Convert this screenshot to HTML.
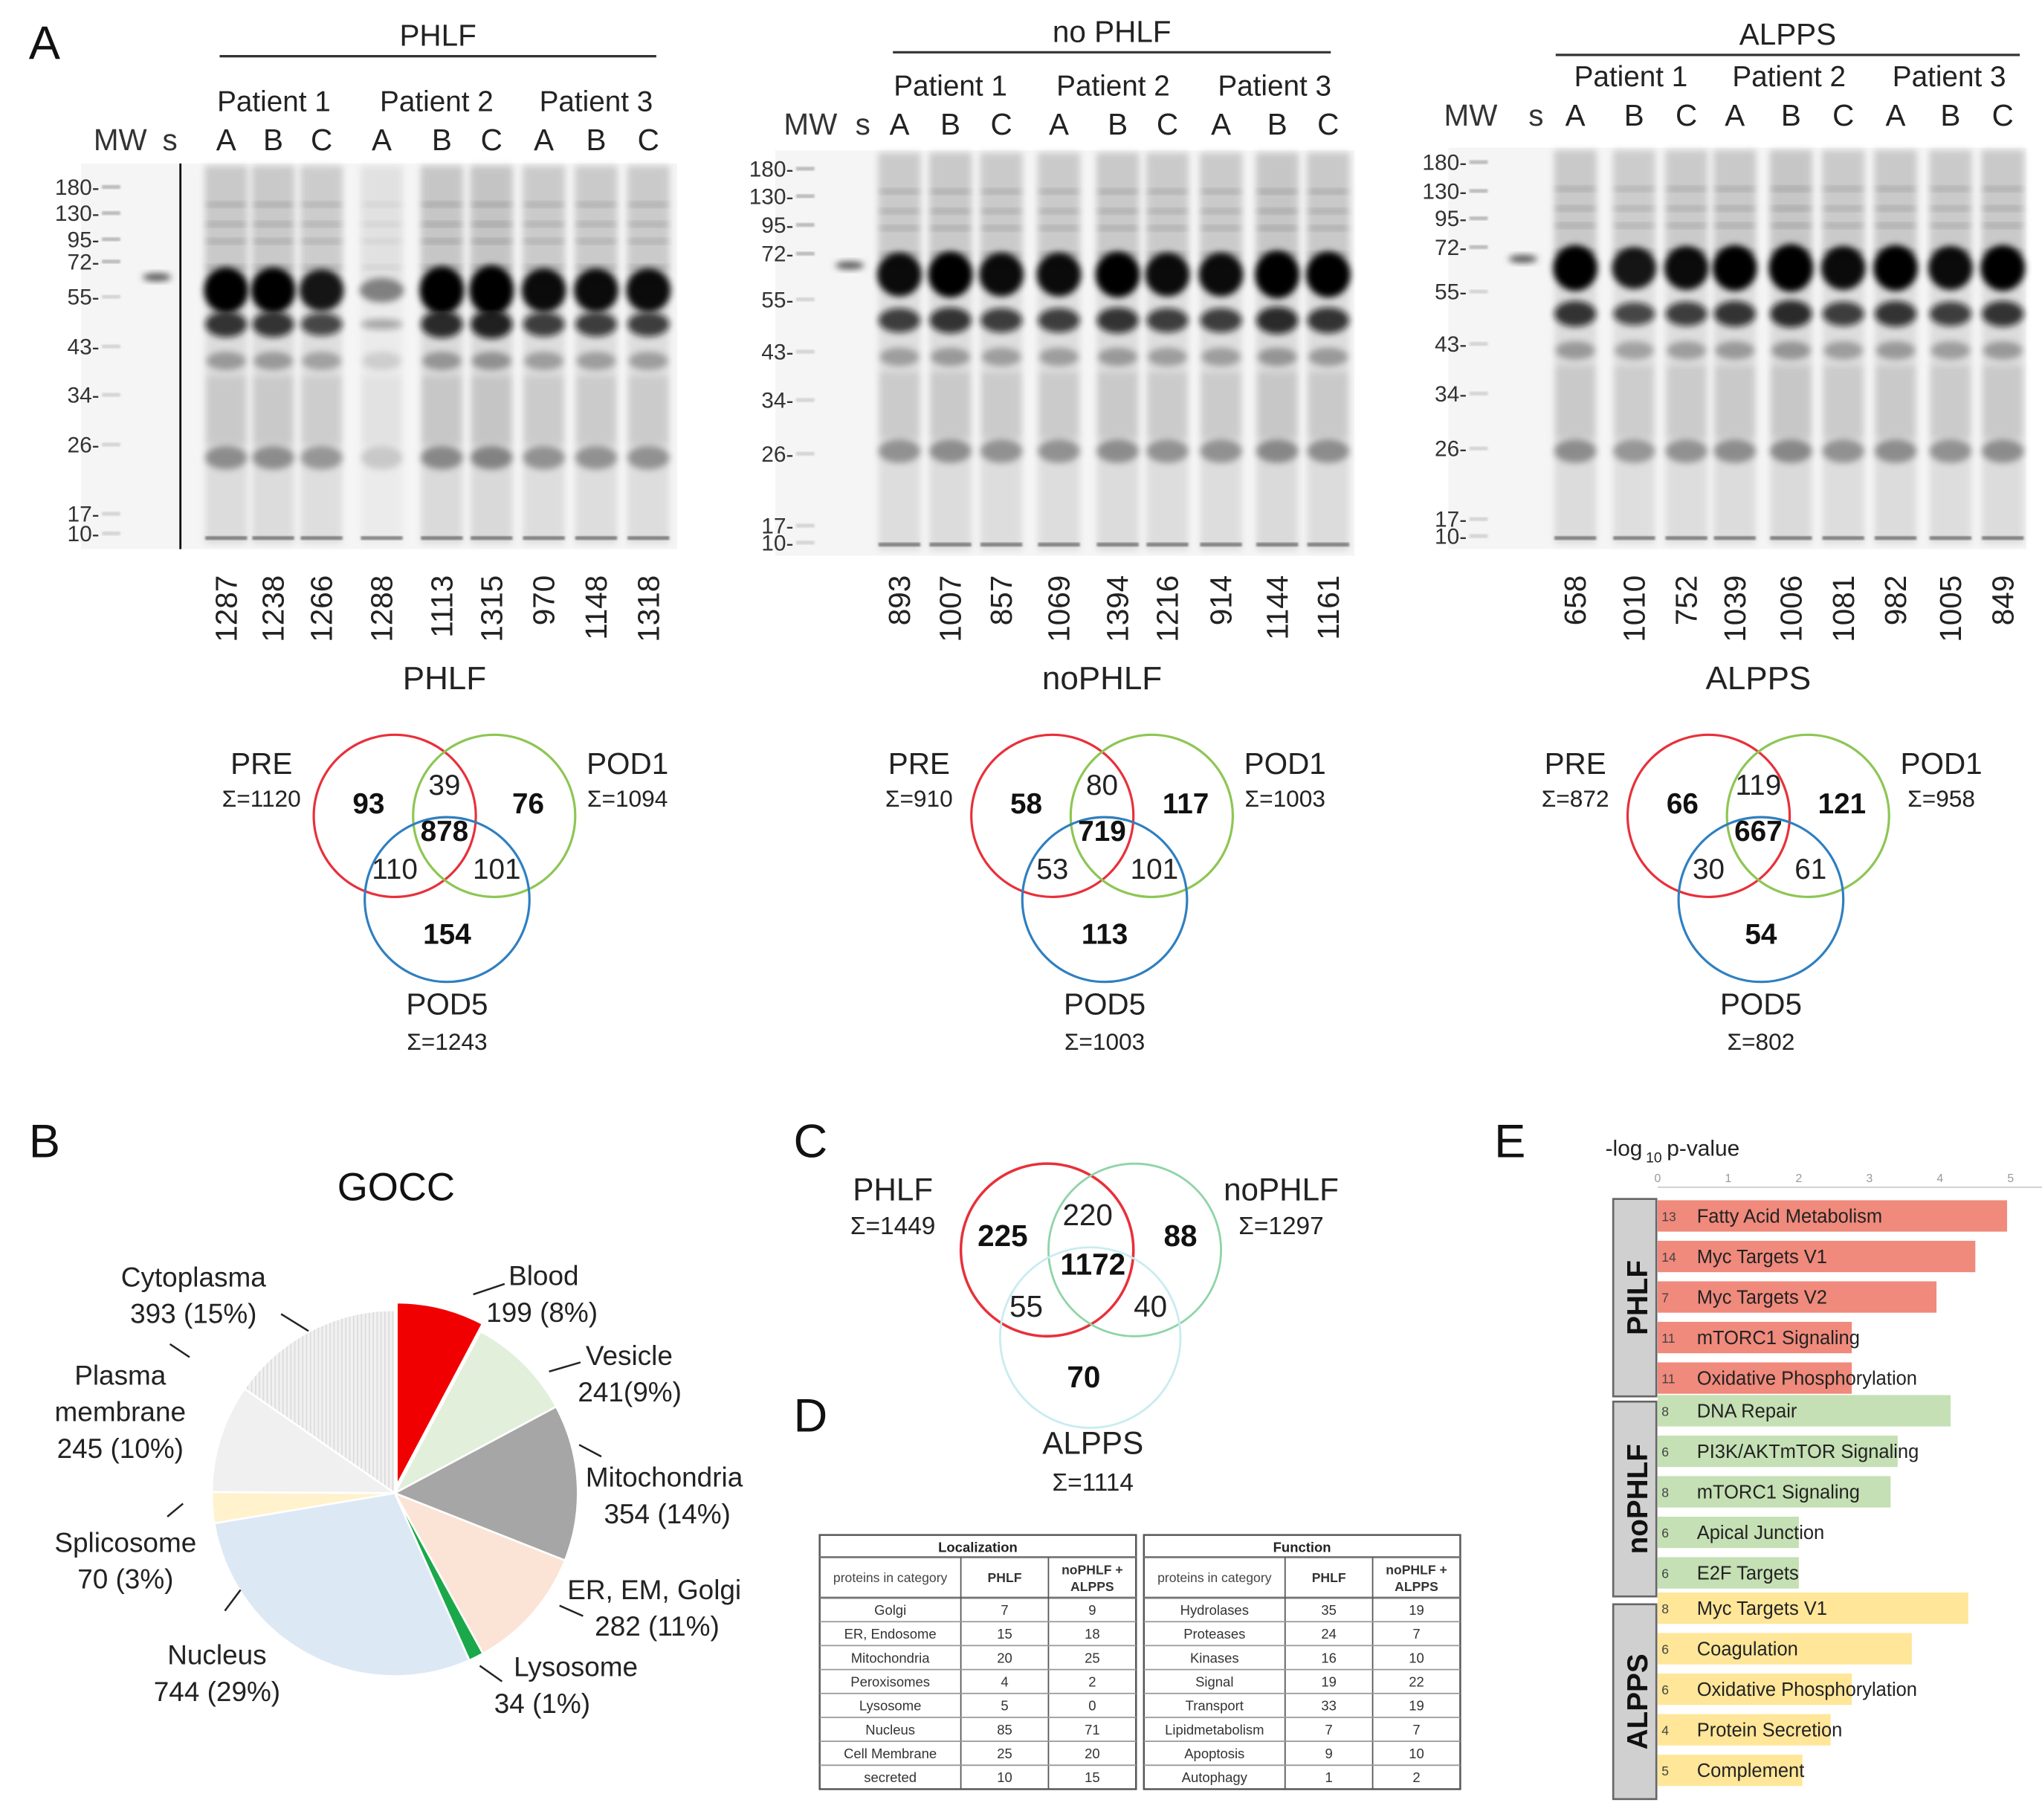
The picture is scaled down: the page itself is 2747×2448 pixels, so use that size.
<!DOCTYPE html>
<html><head><meta charset="utf-8"><style>
html,body{margin:0;padding:0;background:#fff;}
svg{display:block;font-family:"Liberation Sans",Arial,sans-serif;}
</style></head><body>
<svg id="fig" width="2747" height="2448" viewBox="0 0 1562 1392" preserveAspectRatio="none" xmlns="http://www.w3.org/2000/svg">
<defs>
<filter id="blur2" x="-50%" y="-50%" width="200%" height="200%"><feGaussianBlur stdDeviation="2.6"/></filter>
<filter id="blur5" x="-50%" y="-50%" width="200%" height="200%"><feGaussianBlur stdDeviation="5"/></filter>
<filter id="blurs" x="-10%" y="-10%" width="120%" height="120%"><feGaussianBlur stdDeviation="0.7"/></filter>
<pattern id="vstripe" width="3" height="10" patternUnits="userSpaceOnUse"><rect width="3" height="10" fill="#f1f1f1"/><rect width="1" height="10" fill="#dcdcdc"/></pattern>
</defs>
<g id="root"></g>
</svg>
<script>
// ---------- DATA ----------
const gelTitles = ["PHLF","no PHLF","ALPPS"];
const gelNumbers1 = ["1287","1238","1266","1288","1113","1315","970","1148","1318"];
const gelNumbers2 = ["893","1007","857","1069","1394","1216","914","1144","1161"];
const gelNumbers3 = ["658","1010","752","1039","1006","1081","982","1005","849"];
const gelIntensity1 = [0.9,0.9,0.8,0.35,0.95,1.0,0.85,0.85,0.85];
const gelIntensity2 = [0.85,0.9,0.85,0.85,0.9,0.85,0.85,0.95,0.9];
const gelIntensity3 = [0.9,0.8,0.85,0.9,0.95,0.85,0.9,0.85,0.9];
const mwLabels = ["180","130","95","72","55","43","34","26","17","10"];

const vennNames = ["PHLF","noPHLF","ALPPS"];
const vennPre = [1120,910,872];
const vennPod1 = [1094,1003,958];
const vennPod5 = [1243,1003,802];
const vennOnlyPre = [93,58,66];
const vennOnlyPod1 = [76,117,121];
const vennOnlyPod5 = [154,113,54];
const vennPrePod1 = [39,80,119];
const vennPrePod5 = [110,53,30];
const vennPod1Pod5 = [101,101,61];
const vennAll = [878,719,667];

const pieLabels = ["Blood","Vesicle","Mitochondria","ER, EM, Golgi","Lysosome","Nucleus","Splicosome","Plasma membrane","Cytoplasma"];
const pieValues = [199,241,354,282,34,744,70,245,393];
const piePercents = ["8%","9%","14%","11%","1%","29%","3%","10%","15%"];

const cNames = ["PHLF","noPHLF","ALPPS"];
const cTotals = [1449,1297,1114];
const cRegions = [225,88,70,220,55,40,1172];

const locCats = ["Golgi","ER, Endosome","Mitochondria","Peroxisomes","Lysosome","Nucleus","Cell Membrane","secreted"];
const locPhlf = [7,15,20,4,5,85,25,10];
const locOther = [9,18,25,2,0,71,20,15];
const funCats = ["Hydrolases","Proteases","Kinases","Signal","Transport","Lipidmetabolism","Apoptosis","Autophagy"];
const funPhlf = [35,24,16,19,33,7,9,1];
const funOther = [19,7,10,22,19,7,10,2];

const eTerms = ["Fatty Acid Metabolism","Myc Targets V1","Myc Targets V2","mTORC1 Signaling","Oxidative Phosphorylation","DNA Repair","PI3K/AKTmTOR Signaling","mTORC1 Signaling","Apical Junction","E2F Targets","Myc Targets V1","Coagulation","Oxidative Phosphorylation","Protein Secretion","Complement"];
const eValues = [4.95,4.5,3.95,2.75,2.75,4.15,3.4,3.3,2.0,2.0,4.4,3.6,2.75,2.45,2.05];
const eCounts = [13,14,7,11,11,8,6,8,6,6,8,6,6,4,5];
const eGroups = ["PHLF","PHLF","PHLF","PHLF","PHLF","noPHLF","noPHLF","noPHLF","noPHLF","noPHLF","ALPPS","ALPPS","ALPPS","ALPPS","ALPPS"];
const eTicks = [0,1,2,3,4,5];

// ---------- helpers ----------
const NS="http://www.w3.org/2000/svg";
const root=document.getElementById('root');
function mk(tag,attrs,parent){const e=document.createElementNS(NS,tag);for(const k in attrs)e.setAttribute(k,attrs[k]);(parent||root).appendChild(e);return e;}
function txt(x,y,s,size,opts,parent){opts=opts||{};const e=mk('text',{x:x,y:y,'font-size':size,'text-anchor':opts.anchor||'middle',fill:opts.fill||'#222','font-weight':opts.bold?'bold':'normal'},parent);if(opts.rot)e.setAttribute('transform','rotate('+opts.rot+' '+x+' '+y+')');e.textContent=s;return e;}

// Panel letters
[["A",22,45],["B",22,885],["C",607,885],["D",607,1095],["E",1143,885]].forEach(p=>{
 const t=txt(p[1],p[2],p[0],36,{anchor:'start',fill:'#111'});
 
 
});

// ---------- GELS ----------
const gels=[
 {x0:140,x1:518,y0:125,y1:420,lanes:[173,209,246,292,338,376,416,456,496],mwX:72,sX:120,mwY:[143,163,183,200,227,265,302,340,393,408],main:222,sec:248,b26:350,nums:gelNumbers1,inten:gelIntensity1,line:true,titleY:35,barY:43,barX:[168,502],patY:85,abcY:115,mwLblX:70,numY:440,sY:212},
 {x0:575,x1:1036,y0:115,y1:425,lanes:[688,727,766,810,855,893,934,977,1016],mwX:603,sX:650,mwY:[129,150,172,194,229,269,306,347,402,415],main:210,sec:245,b26:345,nums:gelNumbers2,inten:gelIntensity2,line:false,titleY:32,barY:40,barX:[683,1018],patY:73,abcY:103,mwLblX:598,numY:440,sY:203},
 {x0:1085,x1:1550,y0:113,y1:420,lanes:[1205,1250,1290,1327,1370,1410,1450,1492,1532],mwX:1118,sX:1165,mwY:[124,146,167,189,223,263,301,343,397,410],main:205,sec:240,b26:345,nums:gelNumbers3,inten:gelIntensity3,line:false,titleY:34,barY:42,barX:[1190,1545],patY:66,abcY:96,mwLblX:1103,numY:440,sY:198}
];
gels.forEach((g,gi)=>{
 const G=mk('g',{});
 
 
 mk('rect',{x:g.mwX-10,y:g.y0,width:g.x1-g.mwX+10,height:g.y1-g.y0,fill:'#f5f5f5'},G);
 g.mwY.forEach((y,i)=>{mk('rect',{x:g.mwX+6,y:y-1.5,width:14,height:3,fill:i<4?'#bbb':'#d4d4d4',filter:'url(#blurs)'},G);});
 mk('ellipse',{cx:g.sX,cy:g.sY,rx:11,ry:3,fill:'#555',filter:'url(#blur2)'},G);
 if(g.line) mk('line',{x1:g.x0-2,y1:g.y0,x2:g.x0-2,y2:g.y1,stroke:'#111','stroke-width':1.6},G);
 g.lanes.forEach((lx,i)=>{
  const k=g.inten[i];
  const L=mk('g',{},G);
  
  
  mk('rect',{x:lx-16,y:g.y0+2,width:32,height:g.y1-g.y0-6,fill:'rgb(190,190,190)',opacity:0.5*k,filter:'url(#blur2)'},L);
  mk('rect',{x:lx-16,y:g.y0+2,width:32,height:(g.main-g.y0)-10,fill:'rgb(160,160,160)',opacity:0.35*k,filter:'url(#blur2)'},L);
  [g.y0+30,g.y0+45,g.y0+58,g.y0+78].forEach(y=>mk('rect',{x:lx-15,y:y,width:30,height:3,fill:'#666',opacity:0.45*k,filter:'url(#blur2)'},L));
  mk('ellipse',{cx:lx,cy:g.main,rx:17,ry:15*k+4,fill:'#000',opacity:Math.min(1,k+0.1),filter:'url(#blur2)'},L);
  mk('ellipse',{cx:lx,cy:g.sec,rx:16,ry:11*k,fill:'#111',opacity:0.9*k,filter:'url(#blur2)'},L);
  mk('ellipse',{cx:lx,cy:g.sec+28,rx:15,ry:7,fill:'#555',opacity:0.55*k,filter:'url(#blur2)'},L);
  mk('rect',{x:lx-15,y:g.sec+40,width:30,height:(g.b26-g.sec)-50,fill:'#999',opacity:0.3*k,filter:'url(#blur2)'},L);
  mk('ellipse',{cx:lx,cy:g.b26,rx:16,ry:9,fill:'#555',opacity:0.65*k,filter:'url(#blur2)'},L);
  mk('rect',{x:lx-16,y:g.y1-10,width:32,height:3,fill:'#444',opacity:0.6,filter:'url(#blurs)'},L);
  const n=txt(lx+8,g.numY,g.nums[i],23,{rot:-90,anchor:'end',fill:'#222'},G);
  
  
  txt(lx,g.abcY,["A","B","C"][i%3],23,{fill:'#222'},G);
 });
 for(let p=0;p<3;p++){txt((g.lanes[p*3]+g.lanes[p*3+2])/2,g.patY,'Patient '+(p+1),22,{fill:'#222'},G);}
 txt(g.mwLblX+22,g.abcY,'MW',23,{fill:'#333'},G);
 txt(g.sX+10,g.abcY,'s',23,{fill:'#333'},G);
 mk('line',{x1:g.barX[0],y1:g.barY,x2:g.barX[1],y2:g.barY,stroke:'#333','stroke-width':1.8},G);
 txt((g.barX[0]+g.barX[1])/2,g.titleY,gelTitles[gi],23,{fill:'#222'},G);
 g.mwY.forEach((y,i)=>{txt(g.mwX+4,y+6,mwLabels[i]+'-',17,{anchor:'end',fill:'#333'},G);});
});

// ---------- VENN A ----------
const vennPos=[{cx:340,y:527},{cx:843,y:527},{cx:1345,y:527}];
vennPos.forEach((v,i)=>{
 const G=mk('g',{});
 
 
 const cx=v.cx;
 txt(cx,v.y,vennNames[i],25,{fill:'#222'},G);
 mk('circle',{cx:cx-38,cy:624,r:62,fill:'none',stroke:'#e8303a','stroke-width':1.8},G);
 mk('circle',{cx:cx+38,cy:624,r:62,fill:'none',stroke:'#8dc653','stroke-width':1.8},G);
 mk('circle',{cx:cx+2,cy:688,r:63,fill:'none',stroke:'#2f7fc0','stroke-width':1.8},G);
 txt(cx-140,592,'PRE',23,{fill:'#222'},G);
 txt(cx-140,617,'Σ='+vennPre[i],18,{fill:'#222'},G);
 txt(cx+140,592,'POD1',23,{fill:'#222'},G);
 txt(cx+140,617,'Σ='+vennPod1[i],18,{fill:'#222'},G);
 txt(cx+2,776,'POD5',23,{fill:'#222'},G);
 txt(cx+2,803,'Σ='+vennPod5[i],18,{fill:'#222'},G);
 txt(cx-58,622,vennOnlyPre[i],22,{bold:true,fill:'#111'},G);
 txt(cx+64,622,vennOnlyPod1[i],22,{bold:true,fill:'#111'},G);
 txt(cx+2,722,vennOnlyPod5[i],22,{bold:true,fill:'#111'},G);
 txt(cx,608,vennPrePod1[i],22,{fill:'#222'},G);
 txt(cx-38,672,vennPrePod5[i],22,{fill:'#222'},G);
 txt(cx+40,672,vennPod1Pod5[i],22,{fill:'#222'},G);
 txt(cx,643,vennAll[i],22,{bold:true,fill:'#111'},G);
});

// ---------- PIE B ----------
(function(){
 const G=mk('g',{});
 
 
 txt(303,918,'GOCC',30,{fill:'#111'},G);
 const colors=['#f00000','#e2efda','#a6a6a6','#fbe4d5','#1ba84a','#dde8f5','#fff2cc','#f0f0f0','url(#vstripe)'];
 const total=pieValues.reduce((a,b)=>a+b,0);
 const cx=302,cy=1142,r=140;
 let a=0;
 const scale=v=>v/total*Math.PI*2;
 pieValues.forEach((v,i)=>{
  const a0=a,a1=a+scale(v);a=a1;
  const mid=(a0+a1)/2;
  const off=i===0?6:0;
  const ox=cx+off*Math.sin(mid),oy=cy-off*Math.cos(mid);
  const x0=ox+r*Math.sin(a0),y0=oy-r*Math.cos(a0),x1=ox+r*Math.sin(a1),y1=oy-r*Math.cos(a1);
  const p=mk('path',{d:`M${ox},${oy} L${x0},${y0} A${r},${r} 0 ${a1-a0>Math.PI?1:0} 1 ${x1},${y1} Z`,fill:colors[i],stroke:'#fff','stroke-width':1.5},G);
  
  
 });
 // [x, y, line1, line2, pctX, anchor, leader]
 const lbl=[
  [389,983,"Blood",null,372,"start",[362,990,386,982]],
  [448,1044,"Vesicle",null,442,"start",[420,1049,444,1042]],
  [448,1137,"Mitochondria",null,462,"start",[443,1105,460,1114]],
  [434,1223,"ER, EM, Golgi",null,455,"start",[428,1228,446,1236]],
  [393,1282,"Lysosome",null,378,"start",[367,1274,384,1286]],
  [166,1273,"Nucleus",null,166,"middle",[172,1232,184,1216]],
  [96,1187,"Splicosome",null,96,"middle",[140,1150,128,1160]],
  [92,1059,"Plasma","membrane",92,"middle",[145,1038,130,1028]],
  [148,984,"Cytoplasma",null,148,"middle",[215,1005,236,1018]]
 ];
 lbl.forEach((l,i)=>{
  mk('line',{x1:l[6][0],y1:l[6][1],x2:l[6][2],y2:l[6][3],stroke:'#222','stroke-width':1.4},G);
  let y=l[1];
  txt(l[0],y,l[2],21,{anchor:l[5],fill:'#222'},G);
  if(l[3]){y+=28;txt(l[0],y,l[3],21,{anchor:l[5],fill:'#222'},G);}
  const pct=(i===1?pieValues[i]+'('+piePercents[i]+')':pieValues[i]+' ('+piePercents[i]+')');
  txt(l[4],y+28,pct,21,{anchor:l[5],fill:'#222'},G);
 });
})();

// ---------- VENN C ----------
(function(){
 const G=mk('g',{});
 
 
 mk('circle',{cx:801,cy:956,r:66,fill:'none',stroke:'#e8303a','stroke-width':2},G);
 mk('circle',{cx:868,cy:956,r:66,fill:'none',stroke:'#8fd4a8','stroke-width':1.6},G);
 mk('circle',{cx:834,cy:1023,r:69,fill:'none',stroke:'#c9ecf0','stroke-width':1.6},G);
 txt(683,918,cNames[0],24,{fill:'#222'},G);
 txt(683,944,'Σ='+cTotals[0],19,{fill:'#222'},G);
 txt(980,918,cNames[1],24,{fill:'#222'},G);
 txt(980,944,'Σ='+cTotals[1],19,{fill:'#222'},G);
 txt(836,1112,cNames[2],24,{fill:'#222'},G);
 txt(836,1140,'Σ='+cTotals[2],19,{fill:'#222'},G);
 txt(767,953,cRegions[0],23,{bold:true,fill:'#111'},G);
 txt(903,953,cRegions[1],23,{bold:true,fill:'#111'},G);
 txt(829,1061,cRegions[2],23,{bold:true,fill:'#111'},G);
 txt(832,937,cRegions[3],23,{fill:'#222'},G);
 txt(785,1007,cRegions[4],23,{fill:'#222'},G);
 txt(880,1007,cRegions[5],23,{fill:'#222'},G);
 txt(836,975,cRegions[6],23,{bold:true,fill:'#111'},G);
})();

// ---------- TABLES D ----------
function table(x,title,cats,a,b,name){
 const G=mk('g',{});
 
 
 const w=[108,67,67],y0=1174,hh=17,sh=31,rh=18.3;
 const W=w[0]+w[1]+w[2],H=hh+sh+rh*cats.length;
 mk('rect',{x:x,y:y0,width:W,height:H,fill:'#fff',stroke:'#555','stroke-width':1.4},G);
 txt(x+W/2,y0+13,title,10.5,{bold:true,fill:'#222'},G);
 mk('line',{x1:x,y1:y0+hh,x2:x+W,y2:y0+hh,stroke:'#777','stroke-width':1.6},G);
 mk('line',{x1:x,y1:y0+hh+sh,x2:x+W,y2:y0+hh+sh,stroke:'#777','stroke-width':1.6},G);
 mk('line',{x1:x+w[0],y1:y0+hh,x2:x+w[0],y2:y0+H,stroke:'#555','stroke-width':1},G);
 mk('line',{x1:x+w[0]+w[1],y1:y0+hh,x2:x+w[0]+w[1],y2:y0+H,stroke:'#555','stroke-width':1},G);
 txt(x+w[0]/2,y0+hh+19,'proteins in category',10,{fill:'#444'},G);
 txt(x+w[0]+w[1]/2,y0+hh+19,'PHLF',10,{bold:true,fill:'#333'},G);
 txt(x+w[0]+w[1]+w[2]/2,y0+hh+13,'noPHLF +',10,{bold:true,fill:'#333'},G);
 txt(x+w[0]+w[1]+w[2]/2,y0+hh+26,'ALPPS',10,{bold:true,fill:'#333'},G);
 cats.forEach((c,i)=>{
  const y=y0+hh+sh+rh*i;
  if(i>0) mk('line',{x1:x,y1:y,x2:x+W,y2:y,stroke:'#999','stroke-width':1},G);
  txt(x+w[0]/2,y+13,c,10.5,{fill:'#333'},G);
  txt(x+w[0]+w[1]/2,y+13,a[i],10.5,{fill:'#333'},G);
  txt(x+w[0]+w[1]+w[2]/2,y+13,b[i],10.5,{fill:'#333'},G);
 });
}
table(627,'Localization',locCats,locPhlf,locOther,'localization-table');
table(875,'Function',funCats,funPhlf,funOther,'function-table');

// ---------- BAR CHART E ----------
(function(){
 const G=mk('g',{});
 
 
 const x0=1268,ux=54;
 const xs=v=>x0+v*ux;
 const rowY0=930,rowH=31.0;
 const ys=i=>rowY0+i*rowH+(i>=5?-6:0)+(i>=10?-4:0);
 txt(1228,884,'-log',17,{anchor:'start',fill:'#222'},G);
 txt(1259,889,'10',11,{anchor:'start',fill:'#222'},G);
 txt(1275,884,'p-value',17,{anchor:'start',fill:'#222'},G);
 mk('line',{x1:xs(0),y1:908,x2:1562,y2:908,stroke:'#ccc','stroke-width':1},G);
 eTicks.forEach(v=>{txt(xs(v),904,String(v),9,{fill:'#999'},G);});
 const col={PHLF:'#f08a7c',noPHLF:'#c5e0b4',ALPPS:'#ffe699'};
 eValues.forEach((v,i)=>{
  const y=ys(i);
  const r=mk('rect',{x:xs(0),y:y-12,width:xs(v)-xs(0),height:24,fill:col[eGroups[i]]},G);
  
  
  txt(1271,y+4,String(eCounts[i]),10,{anchor:'start',fill:'#444'},G);
  txt(1298,y+5,eTerms[i],14.5,{anchor:'start',fill:'#222'},G);
 });
 [['PHLF',917,1068],['noPHLF',1072,1221],['ALPPS',1227,1376]].forEach(b=>{
  mk('rect',{x:1234,y:b[1],width:33,height:b[2]-b[1],fill:'#d0d0d0',stroke:'#666','stroke-width':1.5},G);
  const tt=txt(1260,(b[1]+b[2])/2,b[0],22,{bold:true,rot:-90,fill:'#111'},G);
  
  
 });
})();
</script>
</body></html>
